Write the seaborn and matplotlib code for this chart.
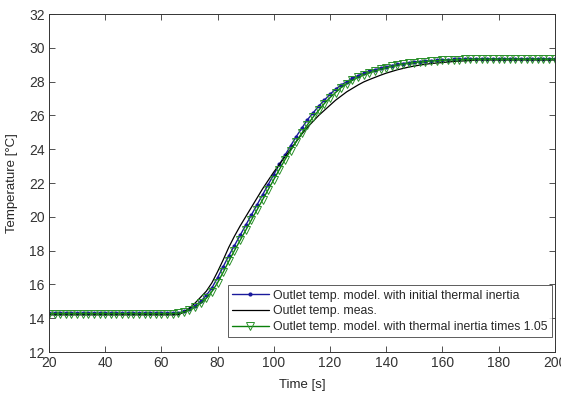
import numpy as np
import pandas as pd
import matplotlib
matplotlib.use("Agg")
import matplotlib.pyplot as plt
import seaborn as sns

# sample times [s]
time_s = np.arange(20, 201, 2)

# outlet temperature, model with initial thermal inertia
temp_model = [14.3] * 23 + [
    14.32, 14.4, 14.55, 14.75, 15.0, 15.35, 15.8, 16.4, 17.05, 17.7,
    18.3, 18.9, 19.5, 20.1, 20.7, 21.3, 21.9, 22.5, 23.1, 23.65,
    24.2, 24.75, 25.25, 25.75, 26.15, 26.55, 26.9, 27.25, 27.55, 27.8,
    28.0, 28.2, 28.35, 28.5, 28.6, 28.7, 28.8, 28.88, 28.95, 29.02,
    29.07, 29.12, 29.16, 29.19, 29.22, 29.24, 29.26, 29.28, 29.3, 29.31,
    29.32, 29.33, 29.34] + [29.35] * 15

# outlet temperature, measured
temp_meas = [14.2] * 23 + [
    14.22, 14.35, 14.6, 14.9, 15.25, 15.6, 16.1, 16.75, 17.45, 18.2,
    18.85, 19.45, 20.0, 20.55, 21.1, 21.65, 22.15, 22.65, 23.1, 23.55,
    24.0, 24.45, 24.9, 25.3, 25.65, 26.0, 26.3, 26.6, 26.9, 27.15,
    27.4, 27.6, 27.8, 27.98, 28.12, 28.25, 28.38, 28.5, 28.6, 28.7,
    28.78, 28.86, 28.92, 28.98, 29.03, 29.07, 29.1, 29.13, 29.16, 29.19,
    29.21, 29.23, 29.25] + [29.28] * 15

# outlet temperature, model with thermal inertia x 1.05
temp_model105 = [14.28] * 23 + [
    14.3, 14.36, 14.48, 14.65, 14.88, 15.18, 15.58, 16.1, 16.72, 17.37,
    18.0, 18.6, 19.2, 19.8, 20.4, 21.0, 21.6, 22.2, 22.8, 23.38,
    23.92, 24.45, 24.95, 25.45, 25.9, 26.3, 26.7, 27.05, 27.35, 27.65,
    27.88, 28.08, 28.25, 28.4, 28.52, 28.63, 28.73, 28.82, 28.9, 28.97,
    29.03, 29.08, 29.12, 29.16, 29.19, 29.22, 29.24, 29.26, 29.28, 29.29,
    29.3, 29.31, 29.32] + [29.33] * 15

df = pd.DataFrame({"t": time_s, "model": temp_model,
                   "meas": temp_meas, "model105": temp_model105})

sns.set_style("ticks")
plt.rcParams["font.family"] = ["Liberation Sans", "DejaVu Sans"]

fig = plt.figure(figsize=(5.61, 3.96), dpi=100)
ax = fig.add_axes([0.0873, 0.111, 0.9015, 0.8536])

sns.lineplot(data=df, x="t", y="model", ax=ax, color="#1a1a9c", lw=1.0,
             marker="o", markersize=3, markeredgewidth=0,
             label="Outlet temp. model. with initial thermal inertia")
sns.lineplot(data=df, x="t", y="meas", ax=ax, color="black", lw=0.9,
             label="Outlet temp. meas.")
sns.lineplot(data=df, x="t", y="model105", ax=ax, color="#0a800a", lw=1.0,
             marker="v", markersize=6, markerfacecolor="none",
             markeredgecolor="#2a902a", markeredgewidth=0.7,
             label="Outlet temp. model. with thermal inertia times 1.05")

ax.set_xlim(20, 200)
ax.set_ylim(12, 32)
ax.set_xticks(range(20, 201, 20))
ax.set_yticks(range(12, 33, 2))
ax.tick_params(direction="in", length=4, top=True, right=True,
               labelsize=10, colors="#333333", width=0.6, pad=3)
for s in ax.spines.values():
    s.set_linewidth(0.7)
    s.set_color("#333333")
ax.set_xlabel("Time [s]", fontsize=9.5, labelpad=6)
ax.set_ylabel("Temperature [°C]", fontsize=9.5, labelpad=8)

leg = ax.legend(loc="lower right", bbox_to_anchor=(0.994, 0.044),
                fontsize=8.8, frameon=True, fancybox=False, borderpad=0.35,
                labelspacing=0.3, handlelength=3.0, handletextpad=0.35,
                borderaxespad=0)
leg.get_frame().set_edgecolor("#333333")
leg.get_frame().set_linewidth(0.7)

fig.savefig("out.png", dpi=100)
